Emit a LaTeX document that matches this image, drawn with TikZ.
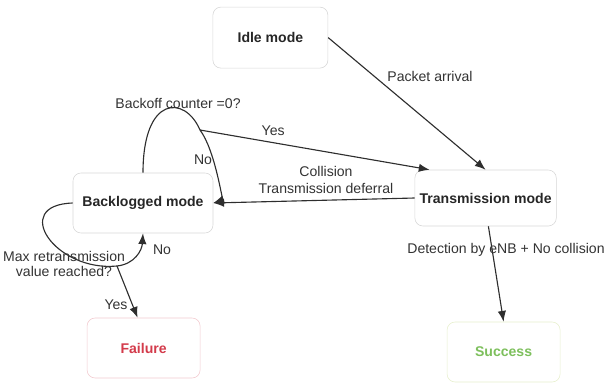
\documentclass[tikz,border=0pt]{standalone}
\usepackage{fontspec}
\setmainfont{Liberation Sans}
\usetikzlibrary{arrows.meta}

\definecolor{boxgray}{HTML}{D6D6D6}
\definecolor{linegray}{HTML}{2E2E2E}
\definecolor{failred}{HTML}{D33B4B}
\definecolor{failedge}{HTML}{F2C9CE}
\definecolor{succgreen}{HTML}{7DBF5C}
\definecolor{succedge}{HTML}{E6EFCC}

\begin{document}
\begin{tikzpicture}[thick,linegray,>={Latex[length=2.7mm,width=2.1mm]},
    mode/.style={draw=boxgray,thin,rounded corners=0.2cm,minimum height=1.5cm,
        font=\fontsize{10}{12}\selectfont\bfseries,text=black!85},
    lbl/.style={font=\fontsize{10}{11.5}\selectfont,text=black!80,align=center}]
    
    % picture frame
    \useasboundingbox (0,0) rectangle (15.15,-9.575);
    
    % states
    \node[mode,minimum width=2.875cm,minimum height=1.525cm] (idle) at (6.76,-0.94) {Idle mode};
    \node[mode,minimum width=3.525cm,minimum height=1.4cm] (trans) at (12.14,-4.95) {Transmission mode};
    \node[mode,minimum width=3.5cm] (backlog) at (3.575,-5.075) {Backlogged mode};
    \node[mode,draw=failedge,text=failred,minimum width=2.825cm] (failure) at (3.59,-8.7) {Failure};
    \node[mode,draw=succedge,text=succgreen,minimum width=2.825cm] (success) at (12.59,-8.8) {Success};
    
    % fork points on the loops
    \coordinate (yesfork) at (5.0,-3.25);
    \coordinate (maxfork) at (2.925,-6.65);
    
    % idle -> transmission
    \draw[->] (idle.east) -- (trans.north);
    \node[lbl] (arrival) at (10.75,-1.9) {Packet arrival};
    
    % backoff loop
    \draw (backlog.north) .. controls (3.575,-2.375) and (4.625,-2.375) .. (yesfork);
    \draw[->] (yesfork) .. controls (5.375,-3.75) and (5.55,-5.0) .. (backlog.east);
    \draw[->] (yesfork) -- ([xshift=0.375cm]trans.north west);
    \node[lbl] (backoff) at (4.45,-2.575) {Backoff counter =0?};
    \node[lbl] (yestop) at (6.83,-3.28) {Yes};
    \node[lbl] (notop) at (5.075,-4.0) {No};
    
    % collision
    \draw[->] (trans.west) -- (backlog.east);
    \node[lbl] (collision) at (8.15,-4.5) {Collision\\Transmission deferral};
    
    % retransmission loop
    \draw (backlog.west) .. controls (0.25,-5.125) and (1.375,-6.8) .. (maxfork);
    \draw[->] (maxfork) .. controls (3.375,-6.6) and (3.55,-6.25) .. (backlog.south);
    \draw[->] (maxfork) -- ([xshift=-0.15cm]failure.north);
    \node[lbl,font=\fontsize{10}{10.5}\selectfont] (maxq) at (1.6,-6.6) {Max retransmission\\value reached?};
    \node[lbl] (nobottom) at (4.05,-6.25) {No};
    \node[lbl] (yesbottom) at (2.9,-7.625) {Yes};
    
    % transmission -> success
    \draw[->] ([xshift=0.07cm]trans.south) -- (success.north);
    \node[lbl] (detect) at (12.65,-6.25) {Detection by eNB + No collision};
    
\end{tikzpicture}
\end{document}
